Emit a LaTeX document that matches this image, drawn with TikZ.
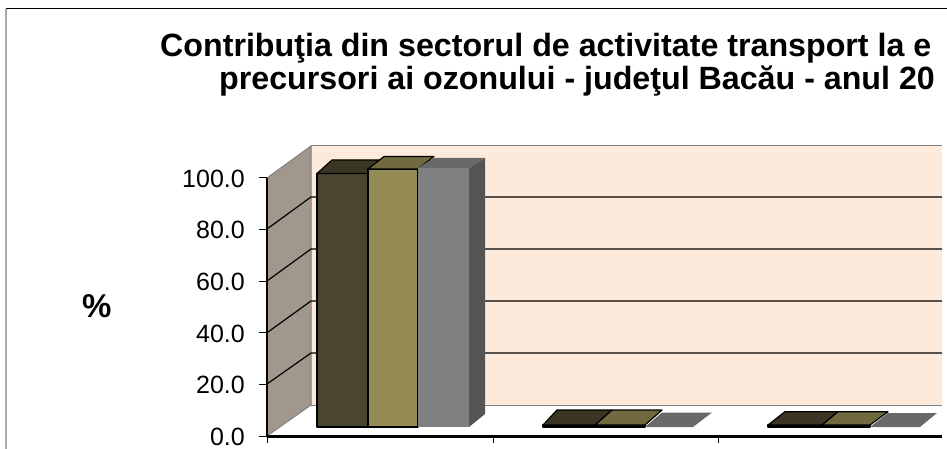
\documentclass[tikz,border=0pt]{standalone}
\usepackage{fontspec}
\setmainfont{Liberation Sans}
\definecolor{peach}{RGB}{253,234,218}
\definecolor{sidewall}{RGB}{161,151,141}
\definecolor{darkA}{RGB}{74,69,46}
\definecolor{darkAtop}{RGB}{59,53,35}
\definecolor{oliveB}{RGB}{148,138,84}
\definecolor{oliveBtop}{RGB}{113,105,64}
\definecolor{grayC}{RGB}{128,128,128}
\definecolor{grayCside}{RGB}{85,85,85}
\definecolor{grayCtop}{RGB}{105,105,105}
\definecolor{framegray}{RGB}{170,170,170}
\begin{document}
\begin{tikzpicture}[x=1pt,y=-1pt,
  grid/.style={black,line width=1.2pt},
  walledge/.style={draw=gray,line width=1pt},
  barline/.style={draw=black,line width=1.2pt,line join=round},
  ticklbl/.style={anchor=base east,inner sep=0pt,font=\fontsize{25}{30}\selectfont},
  titlefont/.style={anchor=base west,inner sep=0pt,font=\bfseries\fontsize{32.2}{38}\selectfont}]
\useasboundingbox (0,0) rectangle (947,449);
% outer frame
\draw[black,line width=1pt] (6,9) -- (947,9);
\draw[framegray,line width=1.5pt] (6,9.5) -- (6,449);
% back wall
\fill[peach] (311,146) rectangle (942,405);
\draw[walledge] (311,146) -- (942,146);
\draw[walledge] (311,405) -- (942,405);
% side wall
\filldraw[fill=sidewall,walledge] (267,436) -- (311,405) -- (311,146) -- (267,178) -- cycle;
% gridlines
\foreach \f/\b in {384/353,332.7/301,281/249,229/197}
  \draw[grid] (267,\f) -- (311,\b) -- (942,\b);
% y axis
\draw[black,line width=1.5pt] (267,178) -- (267,436);
\foreach \y in {178,229,281,332.7,384,436}
  \draw[black,line width=1pt] (259,\y) -- (267,\y);
% x axis
\draw[black,line width=3pt] (267,436.5) -- (942,436.5);
\foreach \x in {267,493,718}
  \draw[black,line width=1pt] (\x,436) -- (\x,443);
% cluster 1
\filldraw[fill=darkA,barline] (317,173.5) rectangle (368,427);
\filldraw[fill=darkAtop,barline] (317,173.5) -- (332,160) -- (382,160) -- (368,173.5) -- cycle;
\filldraw[fill=oliveB,barline] (368,169) rectangle (418,427);
\filldraw[fill=oliveBtop,barline] (368,169) -- (384,156.5) -- (434,156.5) -- (418,169) -- cycle;
\fill[grayCside] (469,168) -- (485,158) -- (485,414) -- (469,427) -- cycle;
\fill[grayCtop] (418,168) -- (434,158) -- (485,158) -- (469,168) -- cycle;
\fill[grayC] (418,168) rectangle (469,427);
% cluster 2
\filldraw[fill=darkA,barline] (543,425) rectangle (595,427);
\filldraw[fill=darkAtop,barline] (543,425) -- (557,410) -- (612,410) -- (595,425) -- cycle;
\filldraw[fill=oliveB,barline] (595,425) rectangle (645,427);
\filldraw[fill=oliveBtop,barline] (595,425) -- (612,410) -- (662,410) -- (645,425) -- cycle;
\fill[grayCtop] (645,427) -- (662,412.5) -- (712,412.5) -- (693,427) -- cycle;
% cluster 3
\filldraw[fill=darkA,barline] (768,425) rectangle (822,427);
\filldraw[fill=darkAtop,barline] (768,425) -- (785,411.7) -- (838,411.7) -- (822,425) -- cycle;
\filldraw[fill=oliveB,barline] (822,425) rectangle (870,427);
\filldraw[fill=oliveBtop,barline] (822,425) -- (838,411.7) -- (888,411.7) -- (870,425) -- cycle;
\fill[grayCtop] (870,427) -- (888,413) -- (937,413) -- (920,427) -- cycle;
% tick labels
\node[ticklbl] (l100) at (245,187.5) {100.0};
\node[ticklbl] (l80) at (245,238.5) {80.0};
\node[ticklbl] (l60) at (245,290.5) {60.0};
\node[ticklbl] (l40) at (245,342) {40.0};
\node[ticklbl] (l20) at (245,393.5) {20.0};
\node[ticklbl] (l0) at (245,445) {0.0};
% axis title
\node[anchor=base west,inner sep=0pt,font=\bfseries\fontsize{33}{40}\selectfont] (pct) at (82,317) {\%};
% chart title
\node[titlefont] (t1) at (160,56.7) {Contribuţia din sectorul de activitate transport la e};
\node[titlefont] (t2) at (219,90) {precursori ai ozonului - judeţul Bacău - anul 20};
\end{tikzpicture}
\end{document}
